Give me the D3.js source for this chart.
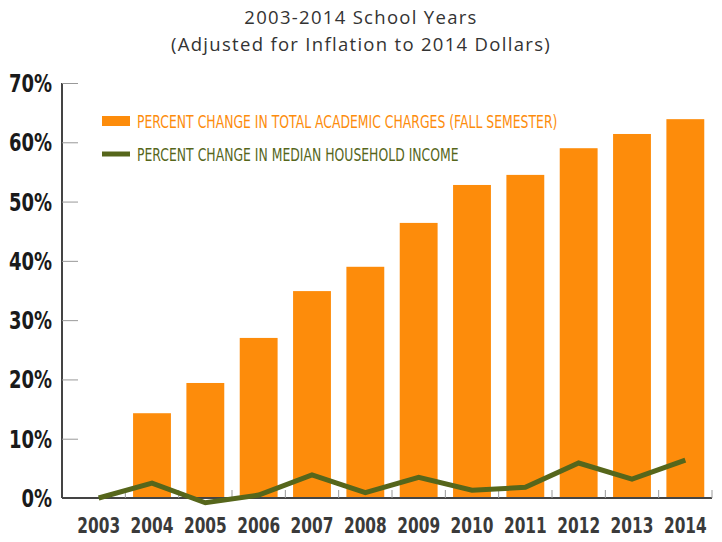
<!DOCTYPE html>
<html>
<head>
<meta charset="utf-8">
<script src="https://cdn.jsdelivr.net/npm/d3@7"></script>
<style>
  body { margin: 0; background: #fff; }
  svg { display: block; }
</style>
</head>
<body>
<svg id="chart"></svg>
<script>
// data
const years = ["2003", "2004", "2005", "2006", "2007", "2008", "2009", "2010", "2011", "2012", "2013", "2014"];
const academicCharges = [null, 14.3, 19.4, 27.0, 34.9, 39.0, 46.4, 52.8, 54.5, 59.0, 61.4, 63.9];
const householdIncome = [0, 2.5, -0.8, 0.5, 3.9, 0.9, 3.5, 1.3, 1.8, 5.9, 3.2, 6.4];
const yTicks = [0, 10, 20, 30, 40, 50, 60, 70];
const titleLines = ["2003-2014 School Years", "(Adjusted for Inflation to 2014 Dollars)"];
const legendItems = [
  { label: "PERCENT CHANGE IN TOTAL ACADEMIC CHARGES (FALL SEMESTER)", type: "bar" },
  { label: "PERCENT CHANGE IN MEDIAN HOUSEHOLD INCOME", type: "line" }
];

const width = 722, height = 542;
const orange = "#fd8c0b", green = "#56661b";
const sans = "'DejaVu Sans', sans-serif";

const svg = d3.select("#chart").attr("width", width).attr("height", height);

// the reference uses a condensed face: squeeze text horizontally around its anchor
const squeeze = (px, py, k) => `translate(${px},${py}) scale(${k},1)`;

const x = d3.scaleBand().domain(years).range([72, 712]).paddingInner(0.29).paddingOuter(0.145);
const xb = d3.scaleBand().domain(years).range([72, 712]); // band boundaries
const y = d3.scaleLinear().domain([0, 70]).range([498, 83]);

// title
svg.append("g").selectAll("text")
  .data(titleLines)
  .enter().append("text")
  .attr("x", 361)
  .attr("y", (d, i) => 24 + i * 27)
  .attr("text-anchor", "middle")
  .attr("font-family", "'Open Sans', sans-serif")
  .attr("font-size", 18.5)
  .attr("letter-spacing", 1.3)
  .attr("fill", "#333")
  .text(d => d);

// y axis
const yAxis = d3.axisRight(y).tickValues(yTicks).tickSize(16).tickFormat("");
const gy = svg.append("g").attr("transform", "translate(62,0)").call(yAxis);
gy.select(".domain").attr("stroke", "#444").attr("stroke-width", 2).attr("d", `M0,${y(70)}V${y(0)}`);
gy.selectAll(".tick line").attr("stroke", "#999").attr("stroke-width", 1);

svg.append("g").selectAll("text")
  .data(yTicks)
  .enter().append("text")
  .attr("transform", d => squeeze(52, y(d) + 9, 0.72))
  .attr("text-anchor", "end")
  .attr("font-family", sans)
  .attr("font-weight", "bold")
  .attr("font-size", 25)
  .attr("fill", "#1a1a1a")
  .text(d => d + "%");

// bars
svg.append("g").selectAll("rect")
  .data(years.map((yr, i) => ({ yr, v: academicCharges[i] })).filter(d => d.v != null))
  .enter().append("rect")
  .attr("x", d => x(d.yr))
  .attr("y", d => y(d.v))
  .attr("width", x.bandwidth())
  .attr("height", d => y(0) - y(d.v))
  .attr("fill", orange);

// x axis
const gx = svg.append("g").attr("transform", `translate(0,${y(0)})`);
gx.append("line").attr("x1", 62).attr("x2", 712).attr("stroke", "#444").attr("stroke-width", 2);
gx.selectAll(".tick")
  .data(years.slice(1).map(d => xb(d)).concat([712]))
  .enter().append("line")
  .attr("x1", d => d).attr("x2", d => d)
  .attr("y1", 0).attr("y2", -8)
  .attr("stroke", "#999");
gx.selectAll("text")
  .data(years)
  .enter().append("text")
  .attr("transform", d => squeeze(xb(d) + xb.bandwidth() / 2, 35, 0.7))
  .attr("text-anchor", "middle")
  .attr("font-family", sans)
  .attr("font-weight", "bold")
  .attr("font-size", 22)
  .attr("fill", "#3a3a3a")
  .text(d => d);

// income line
const line = d3.line()
  .x((d, i) => xb(years[i]) + xb.bandwidth() / 2)
  .y(d => y(d));
svg.append("path")
  .datum(householdIncome)
  .attr("d", line)
  .attr("fill", "none")
  .attr("stroke", green)
  .attr("stroke-width", 5)
  .attr("stroke-linejoin", "miter");

// legend
const legend = svg.append("g").attr("transform", "translate(102,121)");
const li = legend.selectAll("g").data(legendItems).enter().append("g")
  .attr("transform", (d, i) => `translate(0,${i * 33})`);
li.filter(d => d.type === "bar").append("rect")
  .attr("x", 0).attr("y", -5).attr("width", 28).attr("height", 10).attr("fill", orange);
li.filter(d => d.type === "line").append("line")
  .attr("x1", 0).attr("x2", 28).attr("stroke", green).attr("stroke-width", 5);
li.append("text")
  .attr("transform", squeeze(35, 7, 0.69))
  .attr("font-family", sans)
  .attr("font-size", 18)
  .attr("fill", (d, i) => i === 0 ? orange : green)
  .text(d => d.label);
</script>
</body>
</html>
